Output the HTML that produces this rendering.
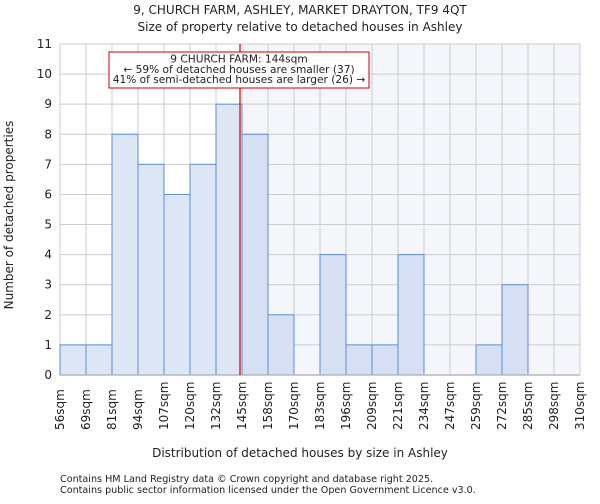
<!DOCTYPE html>
<html><head><meta charset="utf-8"><style>
body{margin:0;background:#fff;font-family:"DejaVu Sans","Liberation Sans",sans-serif}
svg text{fill:#222}
</style></head><body>
<svg width="600" height="500" xmlns="http://www.w3.org/2000/svg">
<text x="300" y="14" font-size="12" text-anchor="middle">9, CHURCH FARM, ASHLEY, MARKET DRAYTON, TF9 4QT</text>
<text x="300" y="31" font-size="12" text-anchor="middle">Size of property relative to detached houses in Ashley</text>
<g id="plot"></g>
<text x="300" y="457" font-size="12" text-anchor="middle">Distribution of detached houses by size in Ashley</text>
<text transform="translate(13,215) rotate(-90)" font-size="12" text-anchor="middle">Number of detached properties</text>
<text x="60" y="482" font-size="9.6">Contains HM Land Registry data © Crown copyright and database right 2025.</text>
<text x="60" y="493" font-size="9.6">Contains public sector information licensed under the Open Government Licence v3.0.</text>
</svg>
<script>
const binLabels=["56sqm","69sqm","81sqm","94sqm","107sqm","120sqm","132sqm","145sqm","158sqm","170sqm","183sqm","196sqm","209sqm","221sqm","234sqm","247sqm","259sqm","272sqm","285sqm","298sqm","310sqm"];
const counts=[1,1,8,7,6,7,9,8,2,0,4,1,1,4,0,0,1,3,0,0];
const yTicks=[0,1,2,3,4,5,6,7,8,9,10,11];
const subjectSize=144;
const binEdges=[56,69,81,94,107,120,132,145,158,170,183,196,209,221,234,247,259,272,285,298,310];
const L=60,R=580,T=44,B=375,yMax=11;
const bw=(R-L)/counts.length;
const ys=v=>B-(B-T)*v/yMax;
function xSize(s){for(let i=0;i<binEdges.length-1;i++){if(s<=binEdges[i+1])return L+bw*(i+(s-binEdges[i])/(binEdges[i+1]-binEdges[i]));}return R;}
const ns="http://www.w3.org/2000/svg",g=document.getElementById('plot');
function mk(t,a){const e=document.createElementNS(ns,t);for(const k in a)e.setAttribute(k,a[k]);g.appendChild(e);return e;}
const rx=xSize(subjectSize);
let sIdx=binEdges.findIndex(e=>e>subjectSize);
let sx=L+bw*sIdx;
let e=mk('rect',{x:sx,y:T,width:R-sx,height:B-T,fill:'#f4f6fc'});


yTicks.forEach(v=>{let l=mk('line',{x1:L,x2:R,y1:ys(v),y2:ys(v),stroke:'#cccccc','stroke-width':1});


let t=mk('text',{x:L-8,y:ys(v)+4,'font-size':12,'text-anchor':'end'});t.textContent=v;

});
binLabels.forEach((s,i)=>{const x=L+bw*i;let l=mk('line',{x1:x,x2:x,y1:T,y2:B,stroke:'#cccccc','stroke-width':1});


let t=mk('text',{transform:`translate(${x+4},${B+55}) rotate(-90)`,'font-size':12});t.textContent=s;

});
counts.forEach((c,i)=>{if(!c)return;const x=L+bw*i;let r=mk('rect',{x:x,y:ys(c),width:bw,height:B-ys(c),fill:i>=sIdx?'#d6e0f2':'#dde6f4',stroke:'#5b8fd6','stroke-width':1});

});
let ax=mk('line',{x1:L,x2:R,y1:B,y2:B,stroke:'#b0b8c8','stroke-width':1.5});


let rl=mk('line',{x1:rx,x2:rx,y1:T,y2:B,stroke:'#d00000','stroke-width':1.2});


let box=mk('rect',{x:109,y:52,width:260,height:36,fill:'#fff',stroke:'#cc0000','stroke-width':1});


["9 CHURCH FARM: 144sqm","← 59% of detached houses are smaller (37)","41% of semi-detached houses are larger (26) →"].forEach((s,i)=>{let t=mk('text',{x:239,y:62.5+i*10.3,'font-size':10.6,'text-anchor':'middle'});t.textContent=s;

});
</script>
</body></html>
